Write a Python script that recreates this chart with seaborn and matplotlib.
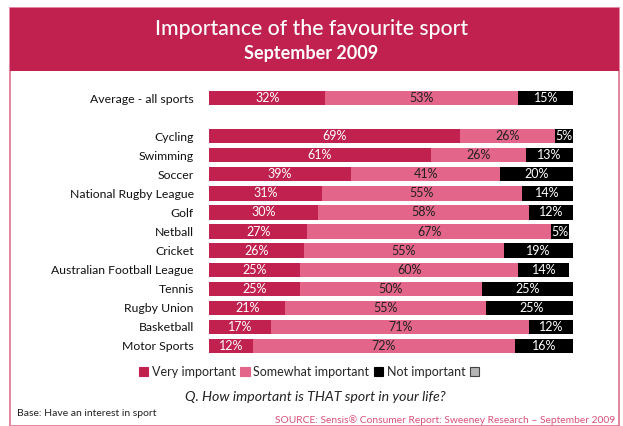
import matplotlib
matplotlib.use("Agg")
import matplotlib.pyplot as plt
from matplotlib.patches import Rectangle
import seaborn as sns
import pandas as pd

# Survey results (percent of respondents)
sports = ["Average - all sports", "Cycling", "Swimming", "Soccer",
          "National Rugby League", "Golf", "Netball", "Cricket",
          "Australian Football League", "Tennis", "Rugby Union",
          "Basketball", "Motor Sports"]
very_important = [32, 69, 61, 39, 31, 30, 27, 26, 25, 25, 21, 17, 12]
somewhat_important = [53, 26, 26, 41, 55, 58, 67, 55, 60, 50, 55, 71, 72]
not_important = [15, 5, 13, 20, 14, 12, 5, 19, 14, 25, 25, 12, 16]
legend_labels = ["Very important", "Somewhat important", "Not important", ""]

CRIMSON = "#C1214F"
PINK = "#E3668A"
BLACK = "#000000"
GREY = "#B4B4B4"
FRAME = "#E0708F"

df = pd.DataFrame({"sport": sports, "very": very_important,
                   "somewhat": somewhat_important, "not": not_important})
df["c1"] = df["very"]
df["c2"] = df["very"] + df["somewhat"]
df["c3"] = df["c2"] + df["not"]

# A spacer row separates the overall average from the individual sports
spacer = " "
order = [sports[0], spacer] + sports[1:]

sns.set_theme(style="white")
plt.rcParams["font.family"] = ["Lato", "DejaVu Sans"]

fig = plt.figure(figsize=(6.23, 4.26), dpi=100)
fig.patch.set_facecolor("white")

# Frame and title banner
fig.add_artist(Rectangle((10 / 623, 0), 609 / 623, 1 - 8 / 426,
                         transform=fig.transFigure, facecolor="none",
                         edgecolor=FRAME, linewidth=1.2))
fig.add_artist(Rectangle((10 / 623, 1 - 71 / 426), 609 / 623, 63 / 426,
                         transform=fig.transFigure, facecolor=CRIMSON,
                         edgecolor="none"))
fig.text(0.5, 1 - 29 / 426, "Importance of the favourite sport",
         ha="center", va="center", color="white", fontsize=15.2,
         fontweight="medium")
fig.text(0.5, 1 - 54 / 426, "September 2009", ha="center", va="center",
         color="white", fontsize=13, fontweight="bold")

ax = fig.add_axes([209 / 623, 1 - 355.5 / 426, 364 / 623, 267 / 426])

# Stacked bars drawn as cumulative layers, widest first
for col, color in [("c3", BLACK), ("c2", PINK), ("c1", CRIMSON)]:
    sns.barplot(data=df, x=col, y="sport", order=order, orient="h",
                color=color, width=0.75, linewidth=0, saturation=1,
                errorbar=None, ax=ax)

ax.set_xlim(0, 100)
ax.set_ylim(len(order) - 0.5, -0.5)
ax.set_xlabel("")
ax.set_ylabel("")
ax.set_xticks([])
for s in ax.spines.values():
    s.set_visible(False)
ax.tick_params(axis="y", length=0, pad=11, labelsize=8.8, labelcolor="#111111")

# Segment value labels
pos = {name: i for i, name in enumerate(order)}
for _, r in df.iterrows():
    y = pos[r["sport"]]
    segs = [(0, r["very"], "white"),
            (r["c1"], r["somewhat"], "#222222"),
            (r["c2"], r["not"], "white")]
    for start, val, tc in segs:
        ax.text(start + val / 2, y, f"{val}%", ha="center", va="center",
                color=tc, fontsize=9)

# Legend
handles = [Rectangle((0, 0), 1, 1, facecolor=c, edgecolor=e, linewidth=0.8)
           for c, e in [(CRIMSON, CRIMSON), (PINK, PINK), (BLACK, BLACK),
                        (GREY, "#444444")]]
fig.legend(handles, legend_labels, loc="center", ncol=4,
           bbox_to_anchor=(311 / 623, 1 - 372 / 426), frameon=False,
           fontsize=9, handlelength=0.75, handleheight=0.75,
           handletextpad=0.3, columnspacing=0.35, borderpad=0)

fig.text(315 / 623, 1 - 397 / 426, "Q. How important is THAT sport in your life?",
         ha="center", va="center", fontsize=10.2, style="italic", color="#222222")
fig.text(17 / 623, 1 - 414 / 426, "Base: Have an interest in sport",
         ha="left", va="center", fontsize=7.5, color="#222222")
fig.text(615 / 623, 1 - 420 / 426,
         "SOURCE: Sensis\u00ae Consumer Report: Sweeney Research \u2013 September 2009",
         ha="right", va="center", fontsize=7.4, color="#D9507A")

fig.savefig("out.png", dpi=100, facecolor="white")
